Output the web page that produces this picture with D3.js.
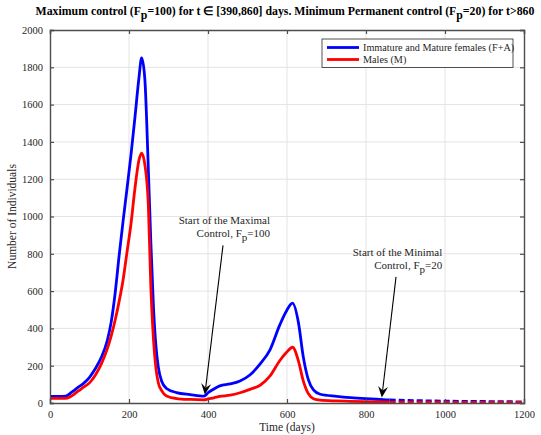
<!DOCTYPE html>
<html>
<head>
<meta charset="utf-8">
<script src="https://cdn.jsdelivr.net/npm/d3@7"></script>
<style>
  body { margin: 0; background: #fff; }
  svg { display: block; font-family: "Liberation Serif", "Times New Roman", serif; }
</style>
</head>
<body>
<svg id="chart" width="541" height="435"></svg>
<script>
// time samples (days) shared by both series
const days = [0, 20, 40, 55, 70, 85, 100, 115, 130, 145, 155, 165, 175, 185, 195, 205, 215, 225, 232, 240,
  249, 255, 262, 268, 274, 283, 295, 320, 355, 390, 400, 415, 430, 456, 481, 506, 532, 557, 582, 599,
  614, 629, 641, 654, 667, 684, 726, 760, 800, 844, 860, 900, 1000, 1100, 1200];

// Immature and Mature females (F+A)
const females = [35, 35, 37, 58, 82, 105, 138, 185, 245, 335, 435, 590, 790, 975, 1150, 1330, 1530, 1740, 1850, 1740,
  1250, 880, 510, 310, 195, 115, 78, 56, 45, 37, 55, 75, 92, 102, 118, 150, 210, 285, 420, 495,
  535, 430, 250, 125, 70, 47, 36, 29, 23, 18, 16, 14, 10, 8, 6];

// Males (M)
const males = [25, 25, 25, 38, 62, 85, 108, 150, 210, 290, 360, 445, 545, 660, 810, 960, 1150, 1300, 1340, 1280,
  1060, 640, 340, 190, 110, 65, 38, 24, 19, 17, 22, 28, 35, 42, 55, 73, 95, 145, 228, 272,
  299, 225, 120, 50, 23, 15, 11, 9, 7, 6, 5, 5, 4, 3, 3];

const xTicks = [0, 200, 400, 600, 800, 1000, 1200];
const yTicks = [0, 200, 400, 600, 800, 1000, 1200, 1400, 1600, 1800, 2000];
const legendLabels = ["Immature and Mature females (F+A)", "Males (M)"];
const seriesColors = ["#0000ff", "#ff0000"];
const dashStart = 860;   // minimal permanent control, drawn dashed

// annotations: text lines, text anchor (t, v), arrow tail (t, v), arrow tip (t, v)
const notes = [
  { lines: [["Start of the Maximal"], ["Control, F", "p", "=100"]], at: [557, 960], tail: [438, 845], tip: [392, 45] },
  { lines: [["Start of the Minimal"], ["Control, F", "p", "=20"]], at: [993, 790], tail: [876, 676], tip: [840, 30] }
];

const svg = d3.select("#chart");
const margin = { left: 50, right: 17, top: 30, bottom: 32 };
const W = 541, H = 435;
const x = d3.scaleLinear().domain([0, 1200]).range([margin.left, W - margin.right]);
const y = d3.scaleLinear().domain([0, 2000]).range([H - margin.bottom, margin.top]);
const axisColor = "#4d4d4d";

// grid
svg.append("g").selectAll("line").data(xTicks.slice(1, -1)).join("line")
  .attr("x1", d => x(d)).attr("x2", d => x(d))
  .attr("y1", y(0)).attr("y2", y(2000))
  .attr("stroke", "#e3e3e3").attr("stroke-width", 1);
svg.append("g").selectAll("line").data(yTicks.slice(1, -1)).join("line")
  .attr("x1", x(0)).attr("x2", x(1200))
  .attr("y1", d => y(d)).attr("y2", d => y(d))
  .attr("stroke", "#e3e3e3").attr("stroke-width", 1);

// curves
const line = d3.line().x(d => x(d[0])).y(d => y(d[1])).curve(d3.curveMonotoneX);
[females, males].forEach((vals, i) => {
  const pts = days.map((t, k) => [t, vals[k]]);
  svg.append("path").datum(pts.filter(p => p[0] <= dashStart))
    .attr("d", line).attr("fill", "none")
    .attr("stroke", seriesColors[i]).attr("stroke-width", 2.8)
    .attr("stroke-linejoin", "round");
  svg.append("path").datum(pts.filter(p => p[0] >= dashStart))
    .attr("d", line).attr("fill", "none")
    .attr("stroke", seriesColors[i]).attr("stroke-width", 2.8)
    .attr("stroke-dasharray", "6,3");
});

// axes box with inward ticks
const fmt = d3.format("d");
const bottom = d3.axisBottom(x).tickValues(xTicks).tickSize(-4).tickPadding(8).tickFormat(fmt);
const left = d3.axisLeft(y).tickValues(yTicks).tickSize(-4).tickPadding(7).tickFormat(fmt);
svg.append("g").attr("transform", `translate(0,${y(0)})`).call(bottom);
svg.append("g").attr("transform", `translate(${x(0)},0)`).call(left);
svg.append("g").attr("transform", `translate(0,${y(2000)})`)
  .call(d3.axisTop(x).tickValues(xTicks).tickSize(-4).tickFormat(""));
svg.append("g").attr("transform", `translate(${x(1200)},0)`)
  .call(d3.axisRight(y).tickValues(yTicks).tickSize(-4).tickFormat(""));
svg.selectAll(".domain").attr("stroke", axisColor).attr("stroke-width", 1.4);
svg.selectAll(".tick line").attr("stroke", axisColor).attr("stroke-width", 1.2);
svg.selectAll(".tick text").attr("font-family", "Liberation Serif, serif")
  .attr("font-size", 10.5).attr("fill", "#262626");

// axis labels
svg.append("text").attr("x", x(600)).attr("y", 431).attr("text-anchor", "middle")
  .attr("font-size", 11.5).attr("fill", "#262626").text("Time (days)");
svg.append("text").attr("transform", `translate(16,${y(1000)}) rotate(-90)`)
  .attr("text-anchor", "middle").attr("font-size", 11.5).attr("fill", "#262626")
  .text("Number of Individuals");

// title with subscripts
const title = svg.append("text").attr("x", 285).attr("y", 15).attr("text-anchor", "middle")
  .attr("font-size", 11.8).attr("font-weight", "bold").attr("fill", "#000");
[["Maximum control (F", false], ["p", true], ["=100) for t \u2208 [390,860] days. Minimum Permanent control (F", false],
 ["p", true], ["=20) for t>860", false]].forEach(([s, sub]) => {
  title.append("tspan").attr("dy", sub ? 4 : (s.startsWith("=") ? -4 : 0)).text(s);
});

// legend
const lg = svg.append("g");
lg.append("rect").attr("x", 322).attr("y", 39).attr("width", 191).attr("height", 28.5)
  .attr("fill", "#fff").attr("stroke", "#262626").attr("stroke-width", 0.8);
legendLabels.forEach((lab, i) => {
  const ly = 47.5 + i * 12;
  lg.append("line").attr("x1", 327).attr("x2", 359).attr("y1", ly).attr("y2", ly)
    .attr("stroke", seriesColors[i]).attr("stroke-width", 2.8);
  lg.append("text").attr("x", 363).attr("y", ly + 3.5).attr("font-size", 10.2)
    .attr("fill", "#262626").text(lab);
});

// annotations with arrows
notes.forEach(n => {
  const t = svg.append("text").attr("text-anchor", "end").attr("font-size", 11).attr("fill", "#262626");
  n.lines.forEach((parts, li) => {
    const row = t.append("tspan").attr("x", x(n.at[0])).attr("y", y(n.at[1]) + li * 13);
    parts.forEach((s, k) => {
      row.append("tspan").attr("dy", k === 1 ? 4 : (k === 2 ? -4 : 0)).text(s);
    });
  });
  const x1 = x(n.tail[0]), y1 = y(n.tail[1]), x2 = x(n.tip[0]), y2 = y(n.tip[1]);
  const a = Math.atan2(y2 - y1, x2 - x1);
  const L = 11, Wd = 5, back = 7;
  const bx = x2 - back * Math.cos(a), by = y2 - back * Math.sin(a);
  svg.append("line").attr("x1", x1).attr("y1", y1).attr("x2", bx).attr("y2", by)
    .attr("stroke", "#000").attr("stroke-width", 1.1);
  const px = x2 - L * Math.cos(a), py = y2 - L * Math.sin(a);
  const nx = -Math.sin(a), ny = Math.cos(a);
  svg.append("path")
    .attr("d", `M${x2},${y2} L${px + nx * Wd},${py + ny * Wd} L${bx},${by} L${px - nx * Wd},${py - ny * Wd} Z`)
    .attr("fill", "#000");
});
</script>
</body>
</html>
